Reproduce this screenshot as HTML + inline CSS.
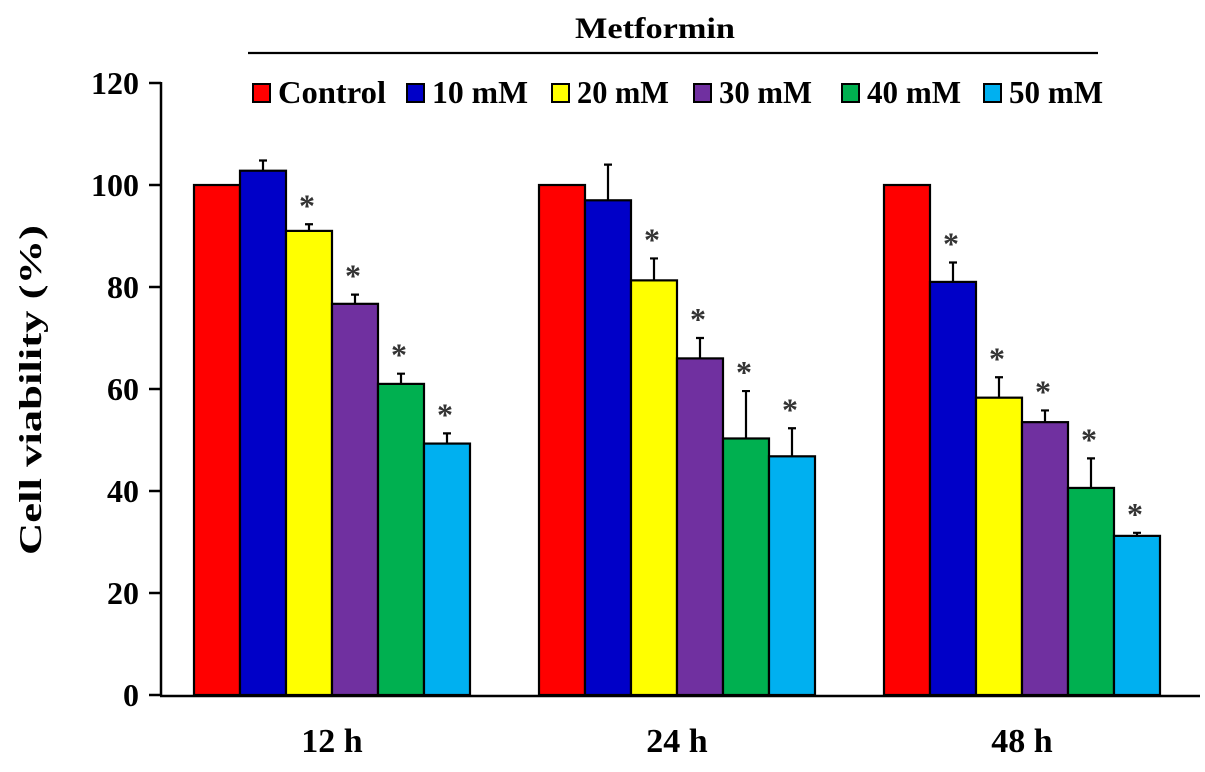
<!DOCTYPE html>
<html><head><meta charset="utf-8"><style>
body{margin:0;background:#fff}
text{font-family:"Liberation Serif",serif;font-weight:bold;fill:#000}
</style></head><body>
<svg id="chart" width="1205" height="767" xmlns="http://www.w3.org/2000/svg">
<g id="g"></g>
</svg>
<script>
const groups=["12 h","24 h","48 h"];
const seriesNames=["Control","10 mM","20 mM","30 mM","40 mM","50 mM"];
const colors=["#ff0000","#0000c8","#ffff00","#7030a0","#00b050","#00b0f0"];
const values=[[100,102.8,91,76.7,61,49.3],[100,97,81.3,66,50.3,46.8],[100,81,58.3,53.5,40.6,31.2]];
const errors=[[0,2,1.3,1.8,2,2],[0,7,4.3,4,9.3,5.5],[0,3.8,4,2.3,5.8,0.6]];
const sig=[[false,false,true,true,true,true],[false,false,true,true,true,true],[false,true,true,true,true,true]];
const yTicks=[0,20,40,60,80,100,120];
const NS="http://www.w3.org/2000/svg";
const g=document.getElementById('g');
const y=v=>695-v*5.1;
const barW=46, groupX=i=>194+i*345;
function el(t,a,txt){const e=document.createElementNS(NS,t);for(const k in a)e.setAttribute(k,a[k]);if(txt!==undefined)e.textContent=txt;g.appendChild(e);return e;}
let ax=el('line',{x1:161,y1:y(120)-1,x2:161,y2:696,stroke:'#000','stroke-width':2.5});


let xx=el('line',{x1:160,y1:696,x2:1200,y2:696,stroke:'#000','stroke-width':2.5});


yTicks.forEach(t=>{
 let l=el('line',{x1:149,y1:y(t),x2:161,y2:y(t),stroke:'#000','stroke-width':2.5});
 
 
 let tx=el('text',{x:139,y:y(t)+11,'text-anchor':'end','font-size':32},t);
 
 
});
let yt=el('text',{x:0,y:0,'text-anchor':'middle','font-size':32,textLength:330,lengthAdjust:'spacingAndGlyphs',transform:'translate(41,390) rotate(-90)'},'Cell viability (%)');


values.forEach((vals,gi)=>{
 vals.forEach((v,si)=>{
  const x=groupX(gi)+si*barW;
  const e=errors[gi][si];
  if(e>0){
   let eb=el('path',{d:`M${x+barW/2},${y(v)} V${y(v+e)} M${x+barW/2-4},${y(v+e)} H${x+barW/2+4}`,stroke:'#000','stroke-width':2.2,fill:'none'});
   
   
  }
  let r=el('rect',{x:x,y:y(v),width:barW,height:695-y(v),fill:colors[si],stroke:'#000','stroke-width':2.2});
  
  
  if(sig[gi][si]){
   let s=el('text',{x:x+barW/2-2,y:y(v+e)-8,'text-anchor':'middle','font-size':32,style:'fill:#333'},'*');
   
   
  }
 });
 let xl=el('text',{x:groupX(gi)+3*barW,y:752,'text-anchor':'middle','font-size':34},groups[gi]);
 
 
});
let mt=el('text',{x:655,y:38,'text-anchor':'middle','font-size':30,textLength:160,lengthAdjust:'spacingAndGlyphs'},'Metformin');


let ml=el('line',{x1:248,y1:53,x2:1098,y2:53,stroke:'#000','stroke-width':2.2});


const legX=[253,407,552,694,842,984];
const legTextEnd=[386,528,669,812,961,1103];
seriesNames.forEach((n,i)=>{
 let s=el('rect',{x:legX[i],y:84,width:17,height:18,fill:colors[i],stroke:'#000','stroke-width':2});
 
 
 const tx0=legX[i]+25;
 let t=el('text',{x:tx0,y:103,'font-size':32,textLength:legTextEnd[i]-tx0,lengthAdjust:'spacingAndGlyphs'},n);
 
 
});
</script>
</body></html>
